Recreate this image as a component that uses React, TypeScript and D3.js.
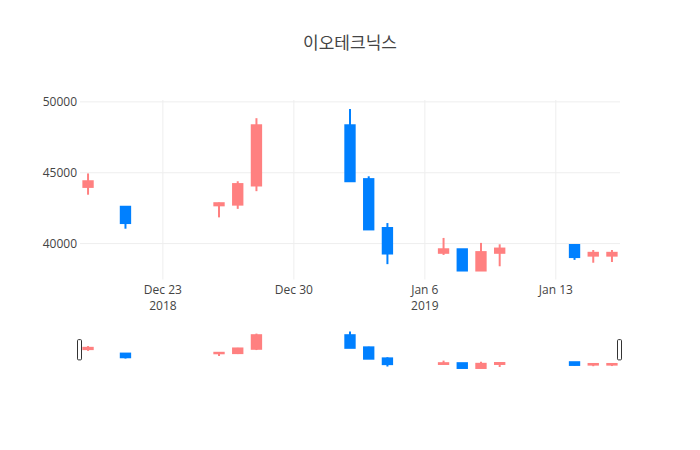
import * as d3 from 'd3'
import React, { useEffect, useRef } from 'react'

// trading days and OHLC values
const dates = [
    '2018-12-19', '2018-12-21', '2018-12-26', '2018-12-27', '2018-12-28',
    '2019-01-02', '2019-01-03', '2019-01-04', '2019-01-07', '2019-01-08',
    '2019-01-09', '2019-01-10', '2019-01-14', '2019-01-15', '2019-01-16',
];
const opens = [44000, 42600, 42700, 42750, 44100, 48350, 44550, 41100, 39350, 39600, 38100, 39350, 39900, 39150, 39150];
const highs = [44950, 42650, 42900, 44400, 48850, 49500, 44750, 41450, 40400, 39600, 40050, 39950, 39950, 39550, 39550];
const lows = [43450, 41050, 41850, 42450, 43700, 44400, 41000, 38550, 39200, 38100, 38100, 38400, 38850, 38650, 38700];
const closes = [44400, 41450, 42850, 44200, 48350, 44400, 41000, 39300, 39600, 38100, 39400, 39650, 39050, 39350, 39350];

const yTicks = [40000, 45000, 50000];
const title = '이오테크닉스';

const upColor = '#ff8080';
const downColor = '#0080ff';
const font = "'Open Sans', 'Noto Sans CJK KR', verdana, arial, sans-serif";

const App: React.FC = () => {
    const chartRef = useRef<SVGSVGElement>(null);

    useEffect(() => {
        if (!chartRef.current) return;
        const width = 700;
        const height = 450;
        const plot = { left: 80, right: 620, top: 100, bottom: 279.5 };
        const slider = { top: 329.5, bottom: 370 };
        const DAY = 86400000;

        const parsed = dates.map(d => new Date(d + 'T00:00:00Z'));
        const data = parsed.map((date, i) => ({
            date, open: opens[i], high: highs[i], low: lows[i], close: closes[i],
        }));

        const xPad = 0.43 * DAY;
        const x = d3.scaleUtc()
            .domain([+parsed[0] - xPad, +parsed[parsed.length - 1] + xPad])
            .range([plot.left, plot.right]);

        // 5% of the axis length padding on each side, like plotly autorange
        const lo = d3.min(lows)!;
        const hi = d3.max(highs)!;
        const yPad = (hi - lo) * 0.05 / 0.9;
        const y = d3.scaleLinear().domain([lo - yPad, hi + yPad]).range([plot.bottom, plot.top]);
        const ys = d3.scaleLinear().domain(y.domain()).range([slider.bottom, slider.top]);

        const svg = d3.select(chartRef.current);
        svg.selectAll('*').remove();
        svg.attr('width', width).attr('height', height);

        svg.append('rect').attr('width', width).attr('height', height).attr('fill', '#fff');

        // grid
        const xTicks = x.ticks(d3.utcWeek.every(1)!);
        svg.append('g')
            .selectAll('line')
            .data(xTicks)
            .enter()
            .append('line')
            .attr('x1', d => x(d)).attr('x2', d => x(d))
            .attr('y1', plot.top).attr('y2', plot.bottom)
            .attr('stroke', '#eee').attr('stroke-width', 1);
        svg.append('g')
            .selectAll('line')
            .data(yTicks)
            .enter()
            .append('line')
            .attr('x1', plot.left).attr('x2', plot.right)
            .attr('y1', d => y(d)).attr('y2', d => y(d))
            .attr('stroke', '#eee').attr('stroke-width', 1);

        // y tick labels
        svg.append('g')
            .attr('font-family', font).attr('font-size', 12).attr('fill', '#444')
            .attr('text-anchor', 'end')
            .selectAll('text')
            .data(yTicks)
            .enter()
            .append('text')
            .attr('x', plot.left - 3)
            .attr('y', d => y(d))
            .attr('dy', '0.35em')
            .text(d => String(d));

        // x tick labels, year on a second line when it changes
        const fmt = d3.utcFormat('%b %-d');
        const xLabels = svg.append('g')
            .attr('font-family', font).attr('font-size', 12).attr('fill', '#444')
            .attr('text-anchor', 'middle')
            .selectAll('text')
            .data(xTicks)
            .enter()
            .append('text')
            .attr('x', d => x(d))
            .attr('y', plot.bottom + 14.5);
        xLabels.append('tspan').text(d => fmt(d));
        xLabels.filter((d, i) => i === 0 || d.getUTCFullYear() !== xTicks[i - 1].getUTCFullYear())
            .append('tspan')
            .attr('x', d => x(d))
            .attr('dy', 15.6)
            .text(d => String(d.getUTCFullYear()));

        const drawCandles = (g: d3.Selection<SVGGElement, unknown, null, undefined>, yy: d3.ScaleLinear<number, number>) => {
            const bw = (x(new Date(+parsed[0] + DAY)) - x(parsed[0])) * 0.5;
            const c = g.selectAll('g')
                .data(data)
                .enter()
                .append('g')
                .attr('stroke', d => (d.close >= d.open ? upColor : downColor))
                .attr('fill', d => (d.close >= d.open ? upColor : downColor))
                .attr('stroke-width', 2);
            c.append('line')
                .attr('x1', d => x(d.date)).attr('x2', d => x(d.date))
                .attr('y1', d => yy(d.high)).attr('y2', d => yy(d.low));
            c.append('rect')
                .attr('x', d => x(d.date) - bw / 2)
                .attr('width', bw)
                .attr('y', d => yy(Math.max(d.open, d.close)))
                .attr('height', d => Math.max(0.5, Math.abs(yy(d.open) - yy(d.close))));
        };

        drawCandles(svg.append('g'), y);

        // range slider
        svg.append('rect')
            .attr('x', plot.left).attr('y', slider.top)
            .attr('width', plot.right - plot.left).attr('height', slider.bottom - slider.top)
            .attr('fill', '#fff');
        drawCandles(svg.append('g'), ys);
        const hh = (slider.bottom - slider.top) / 2;
        svg.append('g')
            .selectAll('rect')
            .data([plot.left, plot.right])
            .enter()
            .append('rect')
            .attr('x', d => d - 2.5)
            .attr('y', slider.top + hh / 2)
            .attr('width', 4)
            .attr('height', hh)
            .attr('rx', 1)
            .attr('fill', '#fff')
            .attr('stroke', '#333')
            .attr('stroke-width', 1);

        // title
        svg.append('text')
            .attr('x', width / 2)
            .attr('y', 49)
            .attr('text-anchor', 'middle')
            .attr('font-family', font)
            .attr('font-size', 17)
            .attr('fill', '#444')
            .text(title);
    }, []);

    return <svg ref={chartRef} style={{ position: 'absolute', left: 0, top: 0 }}></svg>;
};

export default App;
